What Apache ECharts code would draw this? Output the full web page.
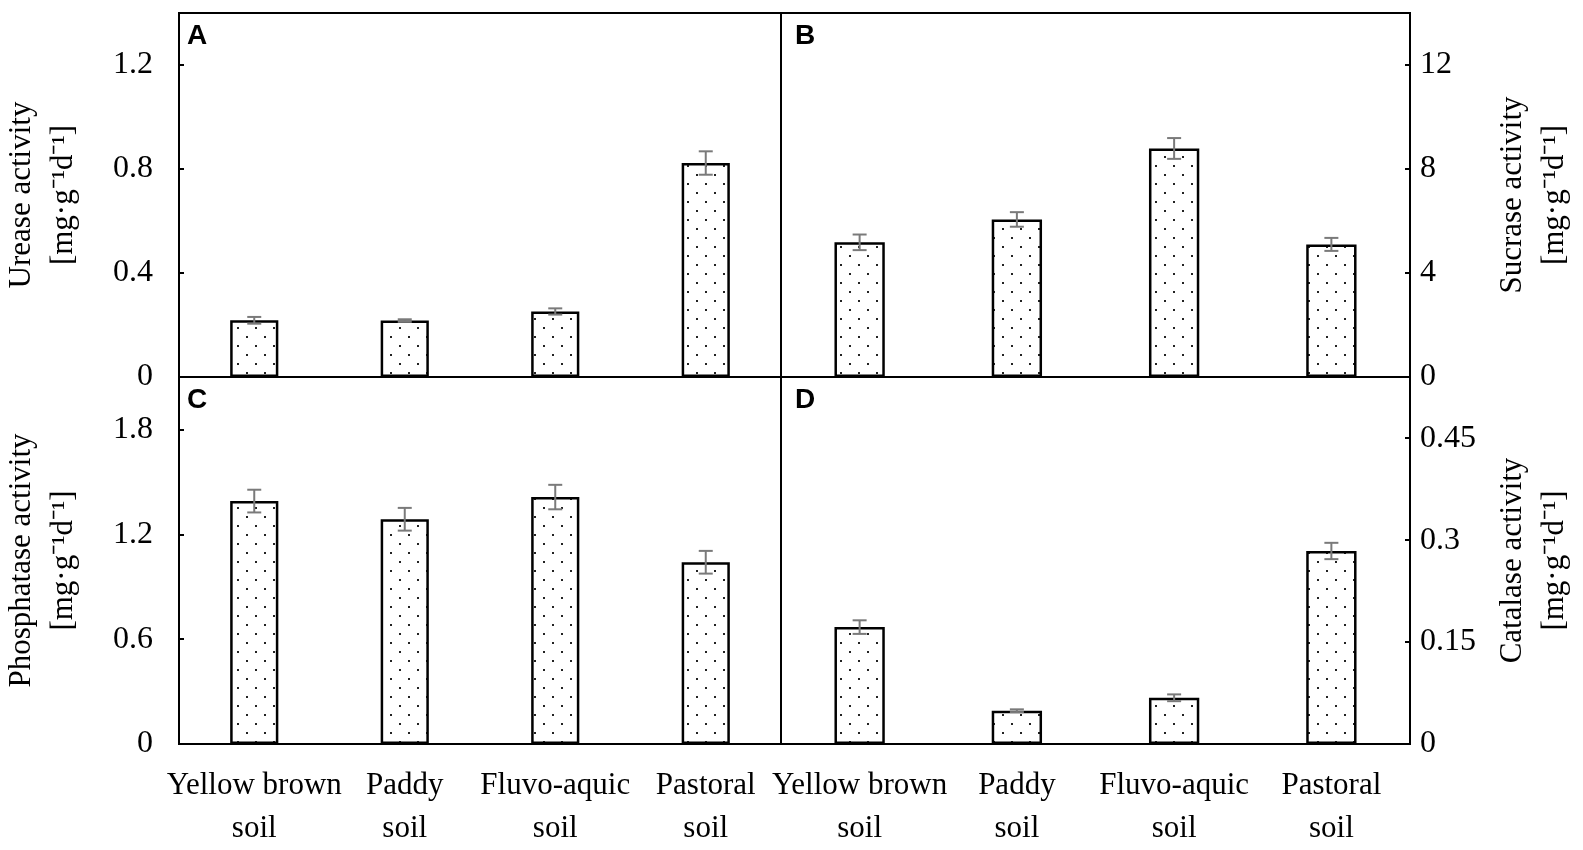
<!DOCTYPE html>
<html>
<head>
<meta charset="utf-8">
<script src="https://cdn.jsdelivr.net/npm/echarts@6/dist/echarts.min.js"></script>
<style>
html, body { margin: 0; padding: 0; background: #fff; }
#main { width: 1583px; height: 850px; }
</style>
</head>
<body>
<div id="main"></div>
<script>
// soil types (x axis)
var soils = ['Yellow brown\nsoil', 'Paddy\nsoil', 'Fluvo-aquic\nsoil', 'Pastoral\nsoil'];

// A - urease
var urease = [0.218, 0.217, 0.252, 0.823];
var ureaseErr = [0.013, 0.005, 0.012, 0.045];
// B - sucrase
var sucrase = [5.18, 6.06, 8.79, 5.1];
var sucraseErr = [0.3, 0.28, 0.4, 0.25];
// C - phosphatase
var phosphatase = [1.39, 1.286, 1.413, 1.04];
var phosphataseErr = [0.065, 0.065, 0.07, 0.065];
// D - catalase
var catalase = [0.172, 0.049, 0.068, 0.284];
var catalaseErr = [0.01, 0.002, 0.005, 0.012];

var yNames = ['Urease activity', 'Sucrase activity', 'Phosphatase activity', 'Catalase activity'];
var unit = '[mg·g⁻¹d⁻¹]';
var letters = ['A', 'B', 'C', 'D'];

var serif = 'Liberation Serif';

// dotted fill
var tile = document.createElement('canvas');
tile.width = 18; tile.height = 18;
var ctx = tile.getContext('2d');
ctx.fillStyle = '#fff';
ctx.fillRect(0, 0, 18, 18);
ctx.fillStyle = '#222';
ctx.fillRect(3, 3, 2, 2);
ctx.fillRect(12, 12, 2, 2);

var myChart = echarts.init(document.getElementById('main'));

function errItem(params, api) {
    var i = api.value(0), v = api.value(1), e = api.value(2);
    var hi = api.coord([i, v + e]);
    var lo = api.coord([i, v - e]);
    var w = 7;
    var st = { stroke: '#7a7a7a', lineWidth: 2 };
    return {
        type: 'group',
        children: [
            { type: 'line', shape: { x1: hi[0], y1: hi[1], x2: lo[0], y2: lo[1] }, style: st },
            { type: 'line', shape: { x1: hi[0] - w, y1: hi[1], x2: hi[0] + w, y2: hi[1] }, style: st },
            { type: 'line', shape: { x1: lo[0] - w, y1: lo[1], x2: lo[0] + w, y2: lo[1] }, style: st }
        ]
    };
}

var panels = [
    { vals: urease, errs: ureaseErr, max: 1.4, step: 0.4, right: false, bottom: false },
    { vals: sucrase, errs: sucraseErr, max: 14, step: 4, right: true, bottom: false },
    { vals: phosphatase, errs: phosphataseErr, max: 2.1, step: 0.6, right: false, bottom: true },
    { vals: catalase, errs: catalaseErr, max: 0.54, step: 0.15, right: true, bottom: true }
];

var grids = [], xAxes = [], yAxes = [], series = [], titles = [];

panels.forEach(function (p, k) {
    var left = p.right ? 781 : 173;
    var width = p.right ? 629 : 608;
    var top = p.bottom ? 377 : 13;
    var height = p.bottom ? 370 : 364;
    grids.push({
        left: left, top: top, width: width, height: height,
        show: true, borderColor: '#000', borderWidth: 2, backgroundColor: '#fff'
    });
    xAxes.push({
        type: 'category', gridIndex: k, data: soils,
        axisLine: { show: true, lineStyle: { color: '#000', width: 2 } },
        axisTick: { show: false },
        axisLabel: {
            show: p.bottom, interval: 0, margin: 20,
            fontFamily: serif, fontSize: 31, lineHeight: 43, color: '#000'
        },
        splitLine: { show: false }
    });
    yAxes.push({
        type: 'value', gridIndex: k, min: 0, max: p.max, interval: p.step,
        position: p.right ? 'right' : 'left',
        name: yNames[k] + '\n' + unit,
        nameLocation: 'middle', nameRotate: 90,
        nameGap: p.right ? 82 : 94,
        nameTextStyle: { fontFamily: serif, fontSize: 31, lineHeight: 42, color: '#000' },
        axisLine: { show: true, lineStyle: { color: '#000', width: 2 } },
        axisTick: { show: true, inside: true, length: 5, lineStyle: { color: '#000', width: 2 } },
        axisLabel: {
            showMaxLabel: false, margin: p.right ? 10 : 26,
            fontFamily: serif, fontSize: 32, color: '#000'
        },
        splitLine: { show: false }
    });
    series.push({
        type: 'bar', xAxisIndex: k, yAxisIndex: k,
        data: p.vals, barWidth: '32%',
        itemStyle: { color: { image: tile, repeat: 'repeat' }, borderColor: '#000', borderWidth: 2.5 },
        z: 2
    });
    series.push({
        type: 'custom', xAxisIndex: k, yAxisIndex: k,
        renderItem: errItem,
        data: p.vals.map(function (v, i) { return [i, v, p.errs[i]]; }),
        z: 3
    });
    titles.push({
        text: letters[k], left: left + 14, top: top + 9, padding: 0,
        textStyle: { fontFamily: 'Liberation Sans', fontWeight: 'bold', fontSize: 28, color: '#000' }
    });
});

option = {
    backgroundColor: '#fff',
    animation: false,
    title: titles,
    grid: grids,
    xAxis: xAxes,
    yAxis: yAxes,
    series: series
};

myChart.setOption(option);
</script>
</body>
</html>
